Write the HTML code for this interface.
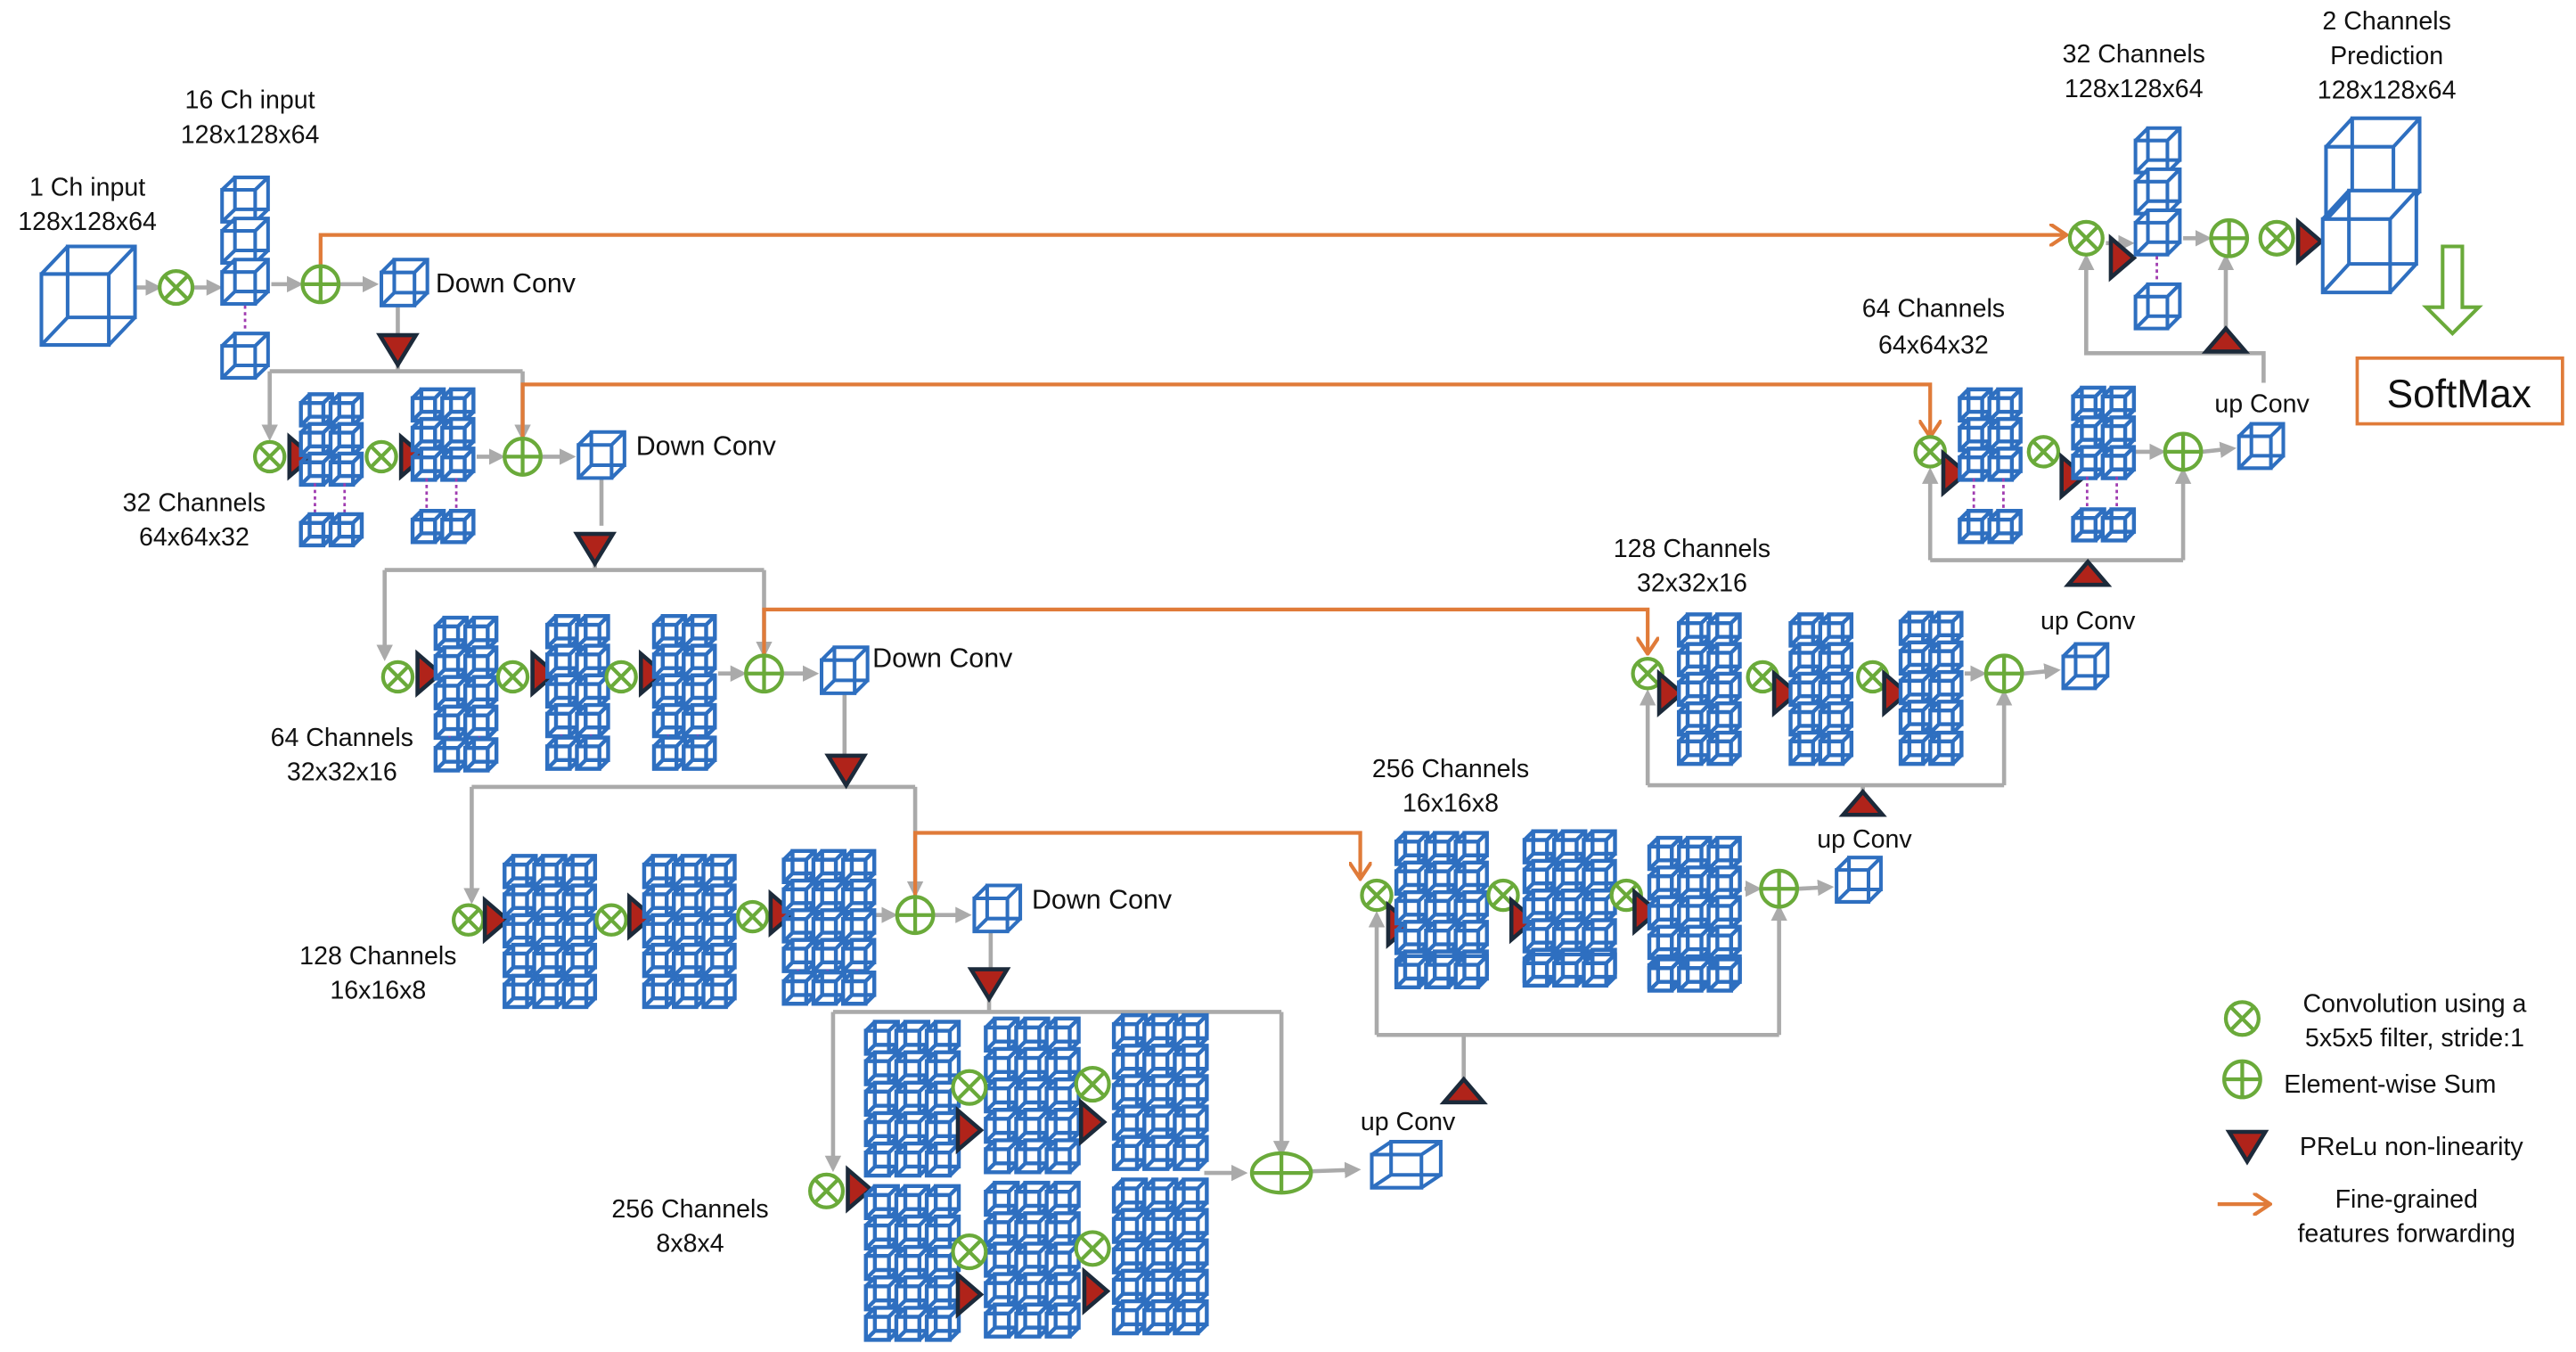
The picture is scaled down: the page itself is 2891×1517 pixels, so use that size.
<!DOCTYPE html>
<html><head><meta charset="utf-8">
<style>
html,body{margin:0;padding:0;background:#fff;}
svg{display:block;}
text{font-family:"Liberation Sans",sans-serif;fill:#111;}
</style></head>
<body>
<svg id="s" width="2891" height="1517" viewBox="0 0 1568 823" xmlns="http://www.w3.org/2000/svg">
<defs>
<marker id="ga" markerWidth="4" markerHeight="4" refX="3" refY="2" orient="auto" markerUnits="strokeWidth"><path d="M0,0 L4,2 L0,4 Z" fill="#aaa"/></marker>
<marker id="oa" markerWidth="5" markerHeight="6" refX="4.5" refY="3" orient="auto" markerUnits="strokeWidth"><path d="M0,0 L4.5,3 L0,6" fill="none" stroke="#e07b39" stroke-width="1"/></marker>
</defs>
<g id="lines" fill="none"></g>
<g id="shapes"></g>
<g font-size="15.5" text-anchor="middle">
<text x="53" y="119">1 Ch input</text><text x="53" y="140">128x128x64</text>
<text x="152" y="66">16 Ch input</text><text x="152" y="87">128x128x64</text>
<text x="118" y="311">32 Channels</text><text x="118" y="332">64x64x32</text>
<text x="208" y="454">64 Channels</text><text x="208" y="475">32x32x16</text>
<text x="230" y="587">128 Channels</text><text x="230" y="608">16x16x8</text>
<text x="420" y="741">256 Channels</text><text x="420" y="762">8x8x4</text>
<text x="883" y="473">256 Channels</text><text x="883" y="494">16x16x8</text>
<text x="1030" y="339">128 Channels</text><text x="1030" y="360">32x32x16</text>
<text x="1177" y="193">64 Channels</text><text x="1177" y="215">64x64x32</text>
<text x="1299" y="38">32 Channels</text><text x="1299" y="59">128x128x64</text>
<text x="1453" y="18">2 Channels</text><text x="1453" y="39">Prediction</text><text x="1453" y="60">128x128x64</text>
<text x="1135" y="516">up Conv</text><text x="1271" y="383">up Conv</text><text x="1377" y="251">up Conv</text><text x="857" y="688">up Conv</text>
<text x="1470" y="616">Convolution using a</text><text x="1470" y="637">5x5x5 filter, stride:1</text>
<text x="1455" y="665">Element-wise Sum</text>
<text x="1468" y="703">PReLu non-linearity</text>
<text x="1465" y="735">Fine-grained</text><text x="1465" y="756">features forwarding</text>
</g>
<g font-size="16.5">
<text x="265" y="178">Down Conv</text><text x="387" y="277">Down Conv</text><text x="531" y="406">Down Conv</text><text x="628" y="553">Down Conv</text>
</g>
<rect x="1435" y="218" width="125" height="40" fill="none" stroke="#e07b39" stroke-width="2"/>
<text x="1497" y="248" font-size="24" text-anchor="middle">SoftMax</text>
<path d="M1487,150 L1499,150 L1499,187 L1509,187 L1493,203 L1477,187 L1487,187 Z" fill="none" stroke="#6aaa3a" stroke-width="2.2"/>
</svg>
<script>
const NS="http://www.w3.org/2000/svg";
const L=document.getElementById('lines'),S=document.getElementById('shapes');
function el(p,tag,a){const e=document.createElementNS(NS,tag);for(const k in a)e.setAttribute(k,a[k]);p.appendChild(e);return e;}
const BL="#2e6fc0";
function cube(x,y,w,h,sw){const d=0.28,fw=w*(1-d),fh=h*(1-d),ox=w*d,oy=h*d;
 const p=`M${x},${y+oy}h${fw}v${fh}h${-fw}Z M${x+ox},${y}h${fw}v${fh}h${-fw}Z M${x},${y+oy}L${x+ox},${y} M${x+fw},${y+oy}L${x+w},${y} M${x+fw},${y+h}L${x+w},${y+fh} M${x},${y+h}L${x+ox},${y+fh}`;
 el(S,'path',{d:p,fill:'#fff',stroke:BL,'stroke-width':sw||2});}
function conv(x,y,r){r=r||9;el(S,'circle',{cx:x,cy:y,r:r,fill:'#fff',stroke:'#6aaa3a','stroke-width':2.3});const k=r*0.7;
 el(S,'path',{d:`M${x-k},${y-k}L${x+k},${y+k}M${x-k},${y+k}L${x+k},${y-k}`,stroke:'#6aaa3a','stroke-width':2.3});}
function sum(x,y,rx,ry){rx=rx||10;ry=ry||rx;el(S,'ellipse',{cx:x,cy:y,rx:rx,ry:ry,fill:'#fff',stroke:'#6aaa3a','stroke-width':2.3});
 el(S,'path',{d:`M${x-rx},${y}L${x+rx},${y}M${x},${y-ry}L${x},${y+ry}`,stroke:'#6aaa3a','stroke-width':2.3});}
function triR(x,y){el(S,'path',{d:`M${x},${y-12}L${x+14},${y}L${x},${y+12}Z`,fill:'#b0231a',stroke:'#1c2a3a','stroke-width':2.5,'stroke-linejoin':'miter'});}
function triD(x,y){el(S,'path',{d:`M${x-11},${y-8}L${x+11},${y-8}L${x},${y+10}Z`,fill:'#b0231a',stroke:'#1c2a3a','stroke-width':2.5});}
function triU(x,y){el(S,'path',{d:`M${x-12},${y+6}L${x+12},${y+6}L${x},${y-8}Z`,fill:'#b0231a',stroke:'#1c2a3a','stroke-width':2.5});}
function gl(d,arrow){el(L,'path',{d:d,stroke:'#aaa','stroke-width':2.5,'marker-end':arrow?'url(#ga)':''});}
function ol(d){el(L,'path',{d:d,stroke:'#e07b39','stroke-width':2.3,'marker-end':'url(#oa)'});}
function dots(x,y1,y2){el(S,'path',{d:`M${x},${y1}L${x},${y2}`,stroke:'#a03cb0','stroke-width':1.5,'stroke-dasharray':'2,2'});}
function block(x,y,cols,rows,s,bottomY){const st=s*0.95;
 for(let r=0;r<rows;r++)for(let c=0;c<cols;c++)cube(x+c*st,y+r*st,s,s,2.4);
 if(bottomY){for(let c=0;c<cols;c++){dots(x+c*st+s*0.45,y+rows*st,bottomY-1);cube(x+c*st,bottomY,s,s,2.4);}}}
// LEVEL 0
gl('M82,175L96,175',1);gl('M116,175L133,175',1);gl('M165,173L182,173',1);gl('M205,173L228,173',1);
cube(25,150,57,60,2.2);conv(107,175,10);
cube(135,108,28,27,2.2);cube(135,133,28,27,2.2);cube(135,158,28,27,2.2);dots(149,186,202);cube(135,203,28,27,2.2);
sum(195,173,11);cube(232,158,28,28,2.2);
gl('M242,186L242,205');triD(242,212);
ol('M195,162L195,143L1258,143');
// LEVEL 1
gl('M242,220L242,226');gl('M164,226L318,226');gl('M164,226L164,266',1);gl('M318,226L318,266',1);
conv(164,278);triR(176,278);block(183,240,2,3,19,313);
conv(232,278);triR(244,278);block(251,237,2,3,19,311);
gl('M290,278L305,278',1);sum(318,278,11);gl('M330,278L348,278',1);cube(352,263,28,28,2.2);
gl('M366,291L366,320');triD(362,333);
ol('M318,266L318,234L1175,234L1175,266');
// LEVEL 2
gl('M362,341L362,347');gl('M234,347L465,347');gl('M234,347L234,400',1);gl('M465,347L465,398',1);
conv(242,412);triR(254,410);block(265,376,2,4,19,450);
conv(312,412);triR(324,410);block(333,375,2,4,19,449);
conv(378,412);triR(390,410);block(398,375,2,4,19,449);
gl('M437,410L452,410',1);sum(465,410,11);gl('M477,410L496,410',1);cube(500,394,28,28,2.2);
gl('M514,422L514,460');triD(515,468);
ol('M465,398L465,371L1003,371L1003,398');
// LEVEL 3
gl('M515,478L515,479');gl('M287,479L557,479');gl('M287,479L287,548',1);gl('M557,479L557,544',1);
conv(285,560);triR(295,560);block(307,521,3,4,19,594);
conv(372,560);triR(383,558);block(392,521,3,4,19,594);
conv(458,558);triR(469,556);block(477,518,3,4,19,592);
gl('M533,557L544,557',1);sum(557,557,11);gl('M569,557L589,557',1);cube(593,539,28,28,2.2);
gl('M603,567L603,590');triD(602,598);
ol('M557,545L557,507L828,507L828,535');
// LEVEL 4
gl('M602,608L602,616');gl('M507,616L780,616');gl('M507,616L507,711',1);gl('M780,616L780,702',1);
conv(503,725,10);triR(516,724);
block(527,622,3,5,19.5);block(527,722,3,5,19.5);
block(600,620,3,5,19.5);block(600,720,3,5,19.5);
block(678,618,3,5,19.5);block(678,718,3,5,19.5);
conv(590,662,10);conv(590,762,10);triR(583,688);triR(583,788);
conv(665,660,10);conv(665,760,10);triR(658,683);triR(660,786);
gl('M733,714L757,714',1);sum(780,714,18,12);gl('M798,713L826,712',1);cube(835,695,42,28,2.2);
// decoder lvl3
gl('M891,665L891,630');gl('M838,630L1083,630');gl('M838,630L838,557',1);gl('M1083,630L1083,553',1);triU(891,665);
conv(838,545);triR(845,563);block(850,507,3,5,19,582);
conv(915,545);triR(920,560);block(928,506,3,5,19,581);
conv(990,545);triR(995,555);block(1004,510,3,5,19,584);
gl('M1062,541L1070,541',1);sum(1083,541,11);gl('M1095,541L1114,540',1);cube(1118,522,27,27,2.2);
// decoder lvl2
gl('M1134,490L1134,478');gl('M1003,478L1220,478');gl('M1003,478L1003,422',1);gl('M1220,478L1220,422',1);triU(1134,490);
conv(1003,410);triR(1010,422);block(1022,374,2,4,19,446);
conv(1073,412);triR(1080,422);block(1090,374,2,4,19,446);
conv(1140,412);triR(1147,422);block(1157,373,2,4,19,446);
gl('M1196,410L1207,410',1);sum(1220,410,11);gl('M1232,410L1252,408',1);cube(1256,392,27,27,2.2);
// decoder lvl1
gl('M1271,350L1271,341');gl('M1175,341L1329,341');gl('M1175,341L1175,287',1);gl('M1329,341L1329,287',1);triU(1271,350);
conv(1175,275);triR(1183,288);block(1193,237,2,3,19,311);
conv(1244,275);triR(1255,290);block(1262,236,2,3,19,310);
gl('M1300,275L1316,275',1);sum(1329,275,11);gl('M1341,275L1359,273',1);cube(1363,258,27,27,2.2);
// top
gl('M1378,233L1378,215L1355,215');gl('M1355,215L1270,215L1270,157',1);gl('M1355,208L1355,157',1);triU(1355,208);
conv(1270,145,10);triR(1285,157);gl('M1282,148L1297,148',1);
cube(1300,78,27,27,2.2);cube(1300,103,27,27,2.2);cube(1300,128,27,27,2.2);dots(1313,156,172);cube(1300,173,27,27,2.2);
gl('M1329,145L1344,145',1);sum(1357,145,11);conv(1386,145,10);triR(1399,147);
cube(1416,72,57,62,2.2);cube(1414,116,57,62,2.2);
// legend
conv(1365,620,10);sum(1365,657,11);triD(1368,697);
ol('M1350,733L1382,733');
</script>
</body></html>
